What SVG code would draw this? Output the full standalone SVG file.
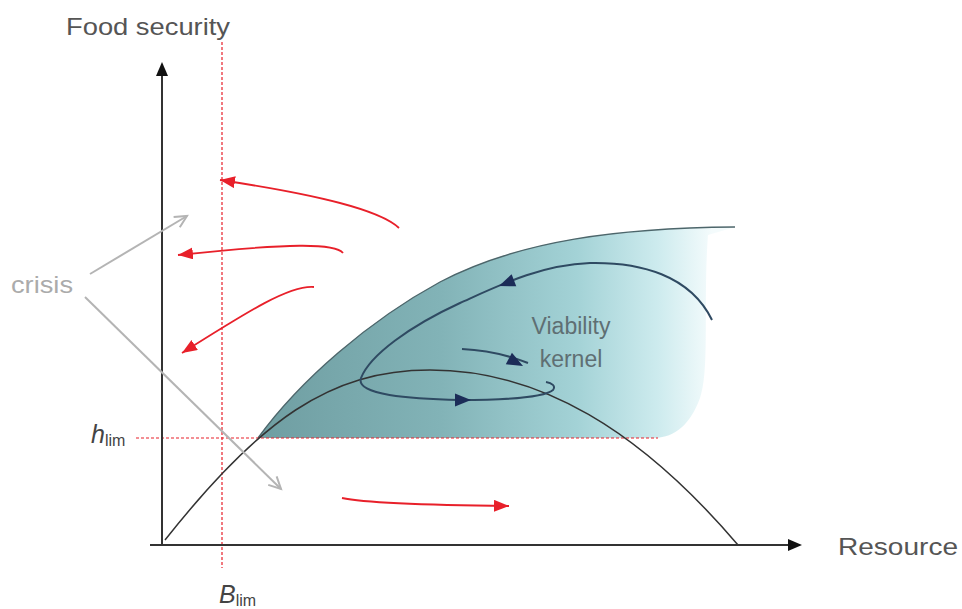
<svg xmlns="http://www.w3.org/2000/svg" width="962" height="609" viewBox="0 0 962 609">
<style>
.lbl{font-family:"Liberation Sans",Arial,sans-serif;fill:#555}
.axis{stroke:#333;stroke-width:2;fill:none}
.red{stroke:#e8202a;stroke-width:1.8;fill:none;marker-end:url(#redHead)}
.gray{stroke:#b4b4b4;stroke-width:2;fill:none;marker-end:url(#grayHead)}
.dash{stroke:#e8202a;stroke-width:1.2;stroke-dasharray:3,2;fill:none}
.traj{stroke:#2f4a62;stroke-width:2;fill:none}
.nav{fill:#1c2c58}
</style>
<defs>
<linearGradient id="kg" gradientUnits="userSpaceOnUse" x1="260" y1="0" x2="712" y2="0">
<stop offset="0" stop-color="#6f9ea2"/>
<stop offset="0.4" stop-color="#82b3b7"/>
<stop offset="0.7" stop-color="#a3d2d6"/>
<stop offset="0.88" stop-color="#cdebee"/>
<stop offset="1" stop-color="#f4fbfc"/>
</linearGradient>
<marker id="redHead" markerUnits="userSpaceOnUse" markerWidth="16" markerHeight="14" refX="15" refY="6" orient="auto">
<path d="M0,0 L15,6 L0,12 z" fill="#e8202a"/>
</marker>
<marker id="grayHead" markerUnits="userSpaceOnUse" markerWidth="16" markerHeight="16" refX="13" refY="7" orient="auto">
<path d="M1,1 L13,7 L1,13" fill="none" stroke="#b4b4b4" stroke-width="2"/>
</marker>
<polygon id="navHead" points="0,0 -16,-6.5 -16,6.5"/>
</defs>

<g id="kernel">
<path d="M258,438 C300,380 370,320 440,282 C520,240 620,228 735,227 L708,235 C703,300 710,370 700,398 C690,425 675,437 655,438 Z" fill="url(#kg)"/>
<path d="M258,438 C300,380 370,320 440,282 C520,240 620,228 735,227" fill="none" stroke="#4d666b" stroke-width="1.4"/>
</g>

<g id="limits">
<line class="dash" x1="222" y1="42" x2="222" y2="568"/>
<line class="dash" x1="136" y1="438" x2="658" y2="438"/>
</g>

<g id="axes">
<line class="axis" x1="162" y1="546" x2="162" y2="74"/>
<polygon points="162,62 156,76 168,76" fill="#111"/>
<line class="axis" x1="150" y1="545" x2="790" y2="545"/>
<polygon points="802,545 788,539 788,551" fill="#111"/>
</g>

<g id="parabola">
<path d="M165,540 C260,420 330,370 430,370 C540,370 640,430 738,545" fill="none" stroke="#333" stroke-width="1.5"/>
</g>

<g id="connectors">
<path class="traj" d="M712,320 C690,275 640,262 590,263 C540,265 500,285 460,303 C410,326 370,355 361,378 C355,395 410,399 460,400 C505,400 545,397 553,390 C556,386 552,383 546,382"/>
<path class="traj" d="M462,349 C485,350 505,354 528,363"/>
<use href="#navHead" class="nav" transform="translate(499,286) rotate(159)"/>
<use href="#navHead" class="nav" transform="translate(471,400) rotate(0)"/>
<use href="#navHead" class="nav" transform="translate(523,366) rotate(28)"/>
<path class="red" d="M399,228 C380,210 320,195 220,180"/>
<path class="red" d="M343,253 C335,243 290,243 178,255"/>
<path class="red" d="M314,287 C290,285 250,310 182,353"/>
<path class="red" d="M342,498 C365,503 420,505 509,506"/>
<path class="gray" d="M90,274 L187,216"/>
<path class="gray" d="M85,297 L281,489"/>
</g>

<g id="labels">
<text class="lbl" x="66" y="35" font-size="24" textLength="164" lengthAdjust="spacingAndGlyphs">Food security</text>
<text class="lbl" x="838" y="555" font-size="24" textLength="120" lengthAdjust="spacingAndGlyphs">Resource</text>
<text class="lbl" x="11" y="293" font-size="24" style="fill:#ababab" textLength="62" lengthAdjust="spacingAndGlyphs">crisis</text>
<text class="lbl" x="571" y="334" font-size="23" text-anchor="middle" style="fill:#5f6f73">Viability</text>
<text class="lbl" x="571" y="367" font-size="23" text-anchor="middle" style="fill:#5f6f73">kernel</text>
<text class="lbl" x="91" y="443" font-size="25" font-style="italic" style="fill:#444">h<tspan font-size="16" font-style="normal" dy="3">lim</tspan></text>
<text class="lbl" x="219" y="603" font-size="25" font-style="italic" style="fill:#444">B<tspan font-size="16" font-style="normal" dy="3">lim</tspan></text>
</g>
</svg>
